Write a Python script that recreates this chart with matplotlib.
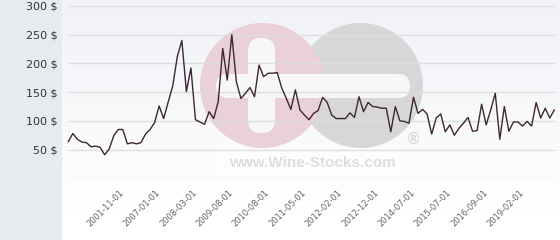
import numpy as np
import matplotlib
matplotlib.use("Agg")
import matplotlib.pyplot as plt
from matplotlib.patches import Rectangle, Circle, FancyBboxPatch

# ---- data ----
prices = [64, 78, 68, 63, 62, 55, 56, 54, 41, 51,
          74, 85, 85, 60, 62, 60, 62, 77, 85, 97,
          126, 104, 133, 161, 212, 240, 151, 192, 102, 98,
          94, 116, 104, 133, 226, 171, 250, 168, 139, 148,
          158, 142, 197, 177, 183, 183, 184, 157, 139, 120,
          154, 119, 110, 102, 113, 118, 141, 132, 110, 104,
          104, 104, 114, 106, 142, 116, 132, 125, 124, 122,
          122, 81, 125, 100, 99, 96, 141, 113, 120, 112,
          77, 105, 112, 81, 93, 75, 87, 96, 106, 82,
          83, 129, 93, 119, 148, 68, 125, 82, 98, 98,
          91, 99, 91, 132, 105, 122, 105, 119]
tick_labels = ["2001-11-01", "2007-01-01", "2008-03-01", "2009-08-01",
               "2010-08-01", "2011-05-01", "2012-02-01", "2012-12-01",
               "2014-07-01", "2015-07-01", "2016-09-01", "2019-02-01"]
first_tick = 12
tick_step = 8
y_ticks = [50, 100, 150, 200, 250, 300]

W, H = 560, 240
fig = plt.figure(figsize=(W / 100, H / 100), dpi=100)
fig.patch.set_facecolor("white")

# ---- background axes in pixel coordinates ----
bg = fig.add_axes([0, 0, 1, 1], zorder=0)
bg.set_xlim(0, W)
bg.set_ylim(H, 0)
bg.axis("off")
grad = np.linspace(0, 1, 256).reshape(-1, 1)
top = np.array([0xf1, 0xf2, 0xf7]) / 255
bot = np.array([1.0, 1.0, 1.0])
img = top[None, None, :] * (1 - grad[:, :, None]) + bot[None, None, :] * grad[:, :, None]
bg.imshow(img, extent=(62, W, 215, 0), aspect="auto", zorder=0)
bg.add_patch(Rectangle((0, 0), 62, H, facecolor="#e7ebee", edgecolor="none", zorder=1))

# watermark
bg.add_patch(Circle((360.5, 85.5), 62.5, facecolor="#d7d7d9", edgecolor="none", zorder=2))
bg.add_patch(Circle((262.5, 85.5), 62.5, facecolor="#ead0d7", edgecolor="none", zorder=3))
bg.add_patch(FancyBboxPatch((216, 74), 194, 24, boxstyle="round,pad=0,rounding_size=12",
                            facecolor="#f7f7f9", edgecolor="none", zorder=4))
bg.add_patch(FancyBboxPatch((248, 38), 27, 95, boxstyle="round,pad=0,rounding_size=13",
                            facecolor="#f7f7f9", edgecolor="none", zorder=4))
bg.add_patch(Rectangle((215, 150), 185, 25, facecolor="white", alpha=0.5,
                       edgecolor="none", zorder=4))
bg.text(312, 163, "www.Wine-Stocks.com", family="Liberation Sans", weight="bold",
        fontsize=11, color="#dedee0", ha="center", va="center", zorder=5)
bg.text(413, 139, "®", family="DejaVu Sans", fontsize=11, color="#d2d2d4",
        ha="center", va="center", zorder=5)

# ---- main axes ----
px_per = (554.3 - 68.3) / (len(prices) - 1)
x0 = 68.3
left_px, right_px = 62, W
top_px, bot_px = 6.0, 178.3
ax = fig.add_axes([left_px / W, (H - bot_px) / H, (right_px - left_px) / W,
                   (bot_px - top_px) / H], zorder=2)
ax.patch.set_alpha(0)
ax.set_xlim(-(x0 - left_px) / px_per, (right_px - x0) / px_per)
ax.set_ylim(0, 300)
for s in ax.spines.values():
    s.set_visible(False)

xs = np.arange(len(prices))
gx0 = (68 - x0) / px_per
gx1 = (555 - x0) / px_per
ax.hlines([0] + y_ticks, gx0, gx1, colors="#dedede", linewidth=1, zorder=1)
ax.plot(xs, prices, color="#3d2731", linewidth=1, zorder=3)

ax.set_yticks(y_ticks)
ax.set_yticklabels([f"{v} $" for v in y_ticks], fontsize=8, color="#333333")
ax.tick_params(axis="y", length=0, pad=3)
ticks = [first_tick + tick_step * i for i in range(len(tick_labels))]
ax.set_xticks(ticks)
ax.set_xticklabels(tick_labels, rotation=45, ha="right", va="center",
                   rotation_mode="anchor", fontsize=6, color="#666666")
ax.tick_params(axis="x", length=0, pad=9)

fig.savefig("out.png", dpi=100)
